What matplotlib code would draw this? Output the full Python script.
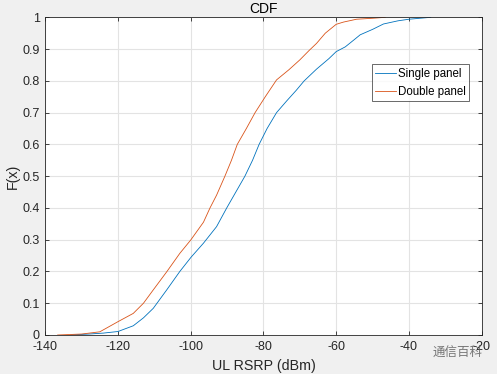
import numpy as np
import matplotlib.pyplot as plt

# UL RSRP CDF values
single_x = [-133, -128, -124, -120, -115.8, -113, -110.3, -106.6, -103, -99.9,
            -96.5, -92.9, -90.1, -87.6, -85.1, -83, -81.2, -79, -76.4, -73.6,
            -71, -68.8, -65.4, -62, -60, -57.5, -55, -53.4, -50, -47,
            -43, -40, -37, -34]
single_f = [0, 0.003, 0.006, 0.011, 0.029, 0.054, 0.084, 0.142, 0.2, 0.245,
            0.289, 0.341, 0.4, 0.45, 0.5, 0.55, 0.6, 0.65, 0.7, 0.737,
            0.77, 0.8, 0.837, 0.87, 0.892, 0.907, 0.93, 0.945, 0.962, 0.979,
            0.989, 0.994, 0.997, 1.0]

double_x = [-136.6, -130, -125, -120, -115.8, -113, -110.3, -106.6, -103, -100,
            -96.5, -94.7, -92.9, -90.6, -88.8, -87.2, -84.7, -82.3, -79.5, -76.4,
            -73, -70, -67.5, -65.4, -63, -60, -58, -54.4, -50, -46.5]
double_f = [0, 0.003, 0.01, 0.042, 0.068, 0.1, 0.142, 0.199, 0.257, 0.299,
            0.355, 0.4, 0.44, 0.5, 0.55, 0.6, 0.65, 0.7, 0.75, 0.803,
            0.835, 0.866, 0.895, 0.918, 0.95, 0.978, 0.985, 0.994, 0.997, 1.0]

xticks = np.arange(-140, -19, 20)
yticks = np.round(np.arange(0, 1.01, 0.1), 1)

plt.rcParams['font.family'] = ['Liberation Sans', 'DejaVu Sans']
txt = '#262626'

fig = plt.figure(figsize=(4.97, 3.74), dpi=100, facecolor='#f0f0f0')
ax = fig.add_axes([0.0911, 0.1043, 0.878, 0.8494])

ax.plot(single_x, single_f, color='#0072BD', lw=0.6, label='Single panel')
ax.plot(double_x, double_f, color='#D95319', lw=0.6, label='Double panel')

ax.set_xlim(-140, -20)
ax.set_ylim(0, 1)
ax.set_xticks(xticks)
ax.set_xticklabels([str(v) for v in xticks])
ax.set_yticks(yticks)
ax.set_yticklabels(['0'] + ['%.1f' % v for v in yticks[1:-1]] + ['1'])
ax.grid(True, color='#e3e3e3', lw=0.8)
ax.set_axisbelow(True)
ax.tick_params(direction='in', length=3, width=0.6, colors=txt, labelsize=9,
               top=True, right=True, labeltop=False, labelright=False, pad=4)
for s in ax.spines.values():
    s.set_color(txt)
    s.set_linewidth(0.6)

ax.set_title('CDF', fontsize=10, color='black', pad=3)
ax.set_xlabel('UL RSRP (dBm)', fontsize=10.3, color=txt, labelpad=5)
ax.set_ylabel('F(x)', fontsize=10.3, color=txt, labelpad=2)

leg = ax.legend(loc='upper left', bbox_to_anchor=(0.748, 0.852), fontsize=8.3,
                frameon=True, fancybox=False, edgecolor='#262626',
                handlelength=1.8, handletextpad=0.15, borderpad=0.3,
                labelspacing=0.5, borderaxespad=0)
leg.get_frame().set_linewidth(0.6)

# watermark
fig.text(0.871, 0.057, '通信百科', fontsize=9, color='#606060',
         family=['Noto Sans CJK SC', 'DejaVu Sans'], ha='left', va='center',
         alpha=0.85)

fig.savefig('out.png', dpi=100, facecolor=fig.get_facecolor())
